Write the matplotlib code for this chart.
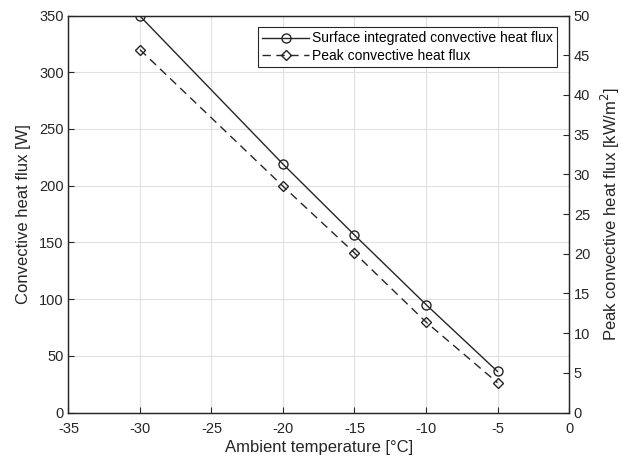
import matplotlib
matplotlib.use("Agg")
import matplotlib.pyplot as plt

plt.rcParams['font.family'] = ['Liberation Sans', 'DejaVu Sans']
plt.rcParams['axes.unicode_minus'] = False

temps = [-30, -20, -15, -10, -5]
surface_flux_W = [349.5, 219, 156.5, 95.2, 36.2]
peak_flux_kW = [45.7, 28.5, 20.1, 11.4, 3.75]

xticks = [-35, -30, -25, -20, -15, -10, -5, 0]
left_ticks = [0, 50, 100, 150, 200, 250, 300, 350]
right_ticks = [0, 5, 10, 15, 20, 25, 30, 35, 40, 45, 50]

fig = plt.figure(figsize=(6.22, 4.58), dpi=100)
ax = fig.add_axes([0.1101, 0.0993, 0.8047, 0.8668])
ax2 = ax.twinx()

col = '#262626'
l1, = ax.plot(temps, surface_flux_W, '-', color=col, lw=1.0, marker='o', ms=6.5,
              mfc='none', mec=col, mew=1.0, label='Surface integrated convective heat flux')
l2, = ax2.plot(temps, peak_flux_kW, '--', color=col, lw=1.0, marker='D', ms=5,
               mfc='none', mec=col, mew=1.0, dashes=(6, 4), label='Peak convective heat flux')

ax.set_xlim(-35, 0)
ax.set_ylim(0, 350)
ax2.set_ylim(0, 50)
ax.set_xticks(xticks)
ax.set_yticks(left_ticks)
ax2.set_yticks(right_ticks)
ax.grid(True, color='#e0e0e0', lw=0.8)
ax.set_axisbelow(True)

for a in (ax, ax2):
    a.tick_params(direction='in', length=4.5, labelsize=10.5, colors='#262626', width=0.8)
    for s in a.spines.values():
        s.set_color('#262626')
        s.set_linewidth(0.9)
ax.tick_params(axis='x', pad=7)

ax.set_xlabel('Ambient temperature [°C]', fontsize=12, color='#262626', labelpad=3)
ax.set_ylabel('Convective heat flux [W]', fontsize=12, color='#262626', labelpad=6)
ax2.set_ylabel('Peak convective heat flux [kW/m$^2$]', fontsize=12, color='#262626', labelpad=6)

leg = ax2.legend(handles=[l1, l2], loc='upper right', fontsize=10, frameon=True,
                 fancybox=False, edgecolor='#262626', framealpha=1,
                 borderaxespad=0.85, handlelength=3.4, borderpad=0.3, labelspacing=0.25,
                 handletextpad=0.2)
leg.get_frame().set_linewidth(0.8)

fig.savefig('out.png', dpi=100)
